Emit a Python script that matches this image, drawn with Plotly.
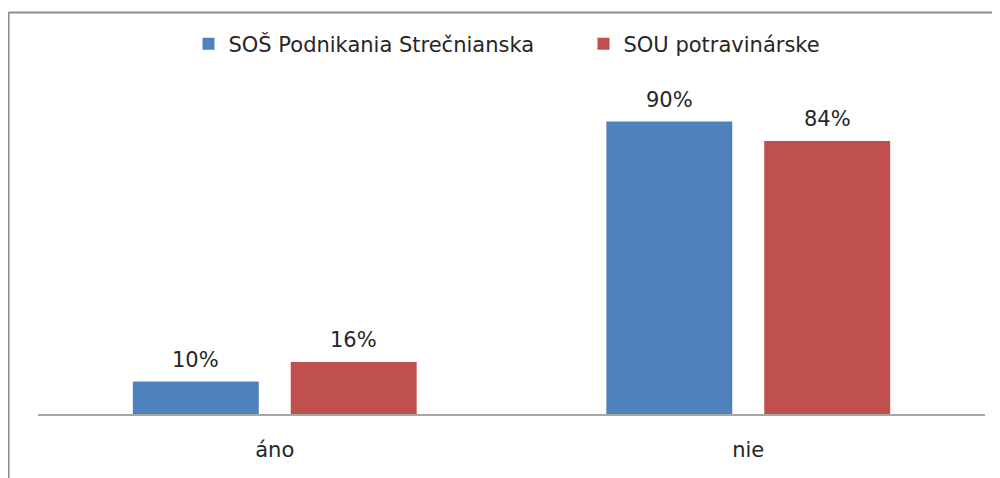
import plotly.graph_objects as go

# data
categories = ["áno", "nie"]
series_names = ["SOŠ Podnikania Strečnianska", "SOU potravinárske"]
sos_values = [10, 90]
sou_values = [16, 84]
colors = ["#4F81BD", "#C0504D"]

off = 8  # page body margin shifts the figure by 8px
W, H = 1000 - off, 478 - off
# plot area in page pixels: x 38..985, y 89..414
ml, mr, mt, mb = 38 - off, W - (985 - off), 89 - off, H - (414 - off)
fsize = 21
txtcol = "#262626"

fig = go.Figure()
for name, vals, col in zip(series_names, [sos_values, sou_values], colors):
    fig.add_trace(go.Bar(
        x=categories,
        y=vals,
        name=name,
        marker=dict(color=col, line=dict(width=0)),
    ))

# value labels above the bars (group offset of +-79px)
for vals, shift in zip([sos_values, sou_values], [-79, 79]):
    for cat, v in zip(categories, vals):
        fig.add_annotation(
            x=cat, y=v, xref="x", yref="y",
            text=f"{v}%", showarrow=False,
            xshift=shift, yshift=22, yanchor="middle",
            font=dict(size=fsize, color=txtcol),
        )

# outer chart border: only its top and left edges are inside the picture
pw = W - ml - mr
ph = H - mt - mb
base = H - mb
bx0 = (8.5 - off - ml) / pw
bx1 = (W - ml) / pw
by0 = -(H - base) / ph
by1 = (base - (12.5 - off)) / ph
fig.add_shape(type="line", xref="paper", yref="paper",
              x0=bx0, x1=bx1, y0=by1, y1=by1,
              line=dict(color="#8c8c8c", width=2))
fig.add_shape(type="line", xref="paper", yref="paper",
              x0=bx0, x1=bx0, y0=by0, y1=by1,
              line=dict(color="#8c8c8c", width=2))

fig.update_layout(
    width=W, height=H,
    margin=dict(l=ml, r=mr, t=mt, b=mb),
    paper_bgcolor="white",
    plot_bgcolor="white",
    font=dict(family="DejaVu Sans", size=fsize, color=txtcol),
    barmode="group",
    bargap=0.333,
    bargroupgap=0.2025,
    showlegend=True,
    legend=dict(
        orientation="h",
        x=0.5 + 72 / pw, xanchor="center",
        y=(base - (44 - off)) / ph, yanchor="middle",
        font=dict(size=fsize),
        itemwidth=30,
        entrywidth=350,
        traceorder="normal",
    ),
    xaxis=dict(
        showline=True, linecolor="#a6a6a6", linewidth=1.5,
        ticks="", showgrid=False,
        tickfont=dict(size=fsize),
        ticklabelstandoff=16,
    ),
    yaxis=dict(
        range=[0, 100], visible=False, showgrid=False, zeroline=False,
    ),
)

fig.write_html("out.html")
